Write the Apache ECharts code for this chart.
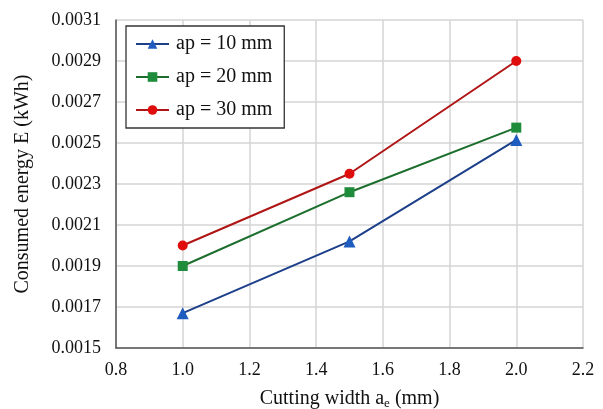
<!DOCTYPE html>
<html>
<head>
<meta charset="utf-8">
<script src="https://cdn.jsdelivr.net/npm/echarts@6/dist/echarts.min.js"></script>
<style>
  html, body { margin: 0; padding: 0; background: #fff; }
  #chart { width: 603px; height: 409px; }
</style>
</head>
<body>
<div id="chart"></div>
<script>
// 切削寬度 (mm)
const widths = [1.0, 1.5, 2.0];
// 各切削深度下的能耗 (kWh)
const ap10 = [0.00167, 0.00202, 0.002515];
const ap20 = [0.00190, 0.00226, 0.002575];
const ap30 = [0.00200, 0.00235, 0.00290];
const seriesNames = ['ap = 10 mm', 'ap = 20 mm', 'ap = 30 mm'];

const font = '"Liberation Serif", "Times New Roman", serif';
const chart = echarts.init(document.getElementById('chart'));

const pairs = (ys) => widths.map((x, i) => [x, ys[i]]);

const makeSeries = (name, ys, lineColor, markColor, symbol, size) => ({
  name,
  type: 'line',
  data: pairs(ys),
  symbol,
  symbolSize: size,
  lineStyle: { color: lineColor, width: 2 },
  itemStyle: { color: markColor },
  emphasis: { disabled: true },
});

chart.setOption({
  animation: false,
  textStyle: { fontFamily: font },
  grid: { left: 116, right: 20, top: 20, bottom: 61, outerBoundsMode: 'none', containLabel: false },
  legend: {
    left: 126,
    top: 26,
    orient: 'vertical',
    data: seriesNames,
    itemWidth: 33,
    itemHeight: 12,
    itemGap: 13,
    padding: [8, 12, 8, 9],
    borderColor: '#333',
    borderWidth: 1.3,
    backgroundColor: '#fff',
    textStyle: { fontFamily: font, fontSize: 20, color: '#111', padding: [0, 0, 0, 2] },
  },
  xAxis: {
    type: 'value',
    min: 0.8,
    max: 2.2,
    interval: 0.2,
    name: 'Cutting width a{sub|e} (mm)',
    nameLocation: 'middle',
    nameGap: 39,
    nameTextStyle: {
      fontFamily: font, fontSize: 20, color: '#111',
      rich: { sub: { fontFamily: font, fontSize: 13, verticalAlign: 'bottom', padding: [10, 0, 0, 0], color: '#111' } },
    },
    axisLine: { lineStyle: { color: '#555', width: 1.5 } },
    axisTick: { show: false },
    axisLabel: { fontSize: 18, color: '#111', margin: 13, formatter: (v) => v.toFixed(1) },
    splitLine: { lineStyle: { color: '#d4d4d4', width: 1.5 } },
  },
  yAxis: {
    type: 'value',
    min: 0.0015,
    max: 0.0031,
    interval: 0.0002,
    name: 'Consumed energy E (kWh)',
    nameLocation: 'middle',
    nameGap: 83,
    nameTextStyle: { fontFamily: font, fontSize: 20, color: '#111' },
    axisLine: { show: true, lineStyle: { color: '#555', width: 1.5 } },
    axisTick: { show: false },
    axisLabel: { fontSize: 18, color: '#111', margin: 15, formatter: (v) => v.toFixed(4) },
    splitLine: { lineStyle: { color: '#d4d4d4', width: 1.5 } },
  },
  series: [
    makeSeries(seriesNames[0], ap10, '#1c3f8a', '#1f5cbf', 'triangle', 12),
    makeSeries(seriesNames[1], ap20, '#1b6e2c', '#1e8c3a', 'rect', 10),
    makeSeries(seriesNames[2], ap30, '#b01515', '#e00d0d', 'circle', 10),
  ],
});
</script>
</body>
</html>
